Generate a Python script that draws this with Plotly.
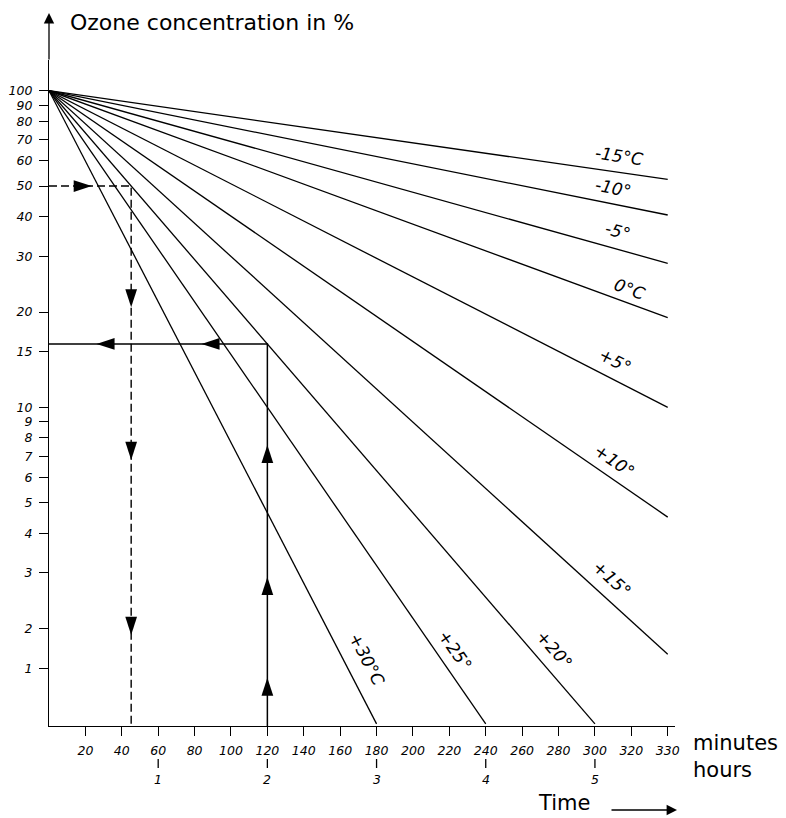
import math
import plotly.graph_objects as go

# ---------------- data ----------------
temps = ["-15°C", "-10°", "-5°", "0°C", "+5°", "+10°", "+15°", "+20°", "+25°", "+30°C"]
start_conc = 100.0                      # % at time 0
end_time = [340, 340, 340, 340, 340, 340, 340, 300, 240, 180]   # minutes (right edge tick reads "330")
end_conc = [52.5, 40.5, 28.5, 19.2, 10.0, 4.5, 1.66, 1.0, 1.0, 1.0]  # %

y_tickvals = [100, 90, 80, 70, 60, 50, 40, 30, 20, 15, 10, 9, 8, 7, 6, 5, 4, 3, 2, 1.5]
y_ticktext = ["100", "90", "80", "70", "60", "50", "40", "30", "20", "15",
              "10", "9", "8", "7", "6", "5", "4", "3", "2", "1"]
x_tickvals = [20, 40, 60, 80, 100, 120, 140, 160, 180, 200, 220, 240, 260, 280, 300, 320, 340]
x_ticktext = ["20", "40", "60", "80", "100", "120", "140", "160", "180", "200",
              "220", "240", "260", "280", "300", "320", "330"]
hours = [1, 2, 3, 4, 5]

# worked example (uses the +20° line); arrow tips
example_idx = 7
example_conc = 50.0      # %
example_time = 120.0     # minutes
down_arrows_conc = [20.7, 6.82, 1.91]
up_arrows_conc = [7.6, 2.91, 1.40]
left_arrows_time = [26.1, 83.8]
right_arrow_time = [23.5]

# ---------------- layout constants ----------------
OFF = 8                                   # page body margin
X_RANGE = [0, 344]
Y_RANGE = [-0.0066, 2.097]
W, H = 778, 810
ML, MR, MT, MB = 41, 111, 52, 92
PW, PH = W - ML - MR, H - MT - MB
ppm = PW / (X_RANGE[1] - X_RANGE[0])
ppd = PH / (Y_RANGE[1] - Y_RANGE[0])

NUMFONT = dict(family="DejaVu Sans", size=12.5, color="black", style="italic")
LABFONT = dict(family="DejaVu Sans", size=17, color="black", style="italic")
TXTFONT = dict(family="DejaVu Sans", size=21, color="black")

fig = go.Figure()

for t, et, ec in zip(temps, end_time, end_conc):
    fig.add_trace(go.Scatter(x=[0, et], y=[start_conc, ec], mode="lines",
                             line=dict(color="black", width=1.3),
                             showlegend=False, hoverinfo="skip", name=t))

# example guides
ref_t = end_time[example_idx]
ref_c = end_conc[example_idx]
t50 = ref_t * math.log(example_conc / start_conc) / math.log(ref_c / start_conc)
c120 = start_conc * (ref_c / start_conc) ** (example_time / ref_t)
y_bottom = 10 ** Y_RANGE[0]

fig.add_trace(go.Scatter(x=[0, t50, t50], y=[example_conc, example_conc, y_bottom],
                         mode="lines", line=dict(color="black", width=1.4, dash="8px,4px"),
                         showlegend=False, hoverinfo="skip"))
fig.add_trace(go.Scatter(x=[example_time, example_time, 0], y=[y_bottom, c120, c120],
                         mode="lines", line=dict(color="black", width=1.5),
                         showlegend=False, hoverinfo="skip"))

def arrows(xs, ys, ang):
    fig.add_trace(go.Scatter(x=xs, y=ys, mode="markers",
                             marker=dict(symbol="arrow", size=19, angle=ang, color="black",
                                         line=dict(width=0)),
                             showlegend=False, hoverinfo="skip", cliponaxis=False))

arrows([t50] * len(down_arrows_conc), down_arrows_conc, 180)
arrows([example_time] * len(up_arrows_conc), up_arrows_conc, 0)
arrows(left_arrows_time, [c120] * len(left_arrows_time), 270)
arrows(right_arrow_time, [example_conc], 90)

def px2paper_x(px):
    return (px - OFF - ML) / PW

def px2paper_y(py):
    return (H - MB - (py - OFF)) / PH

# temperature labels
lab_t = [313.4, 310, 312.3, 319, 311.2, 310.6, 309.5, 264.7, 212, 161.5]
lab_dx = [0, 0, 0, 0, 0, 0, 0, 23, 20, 24]
lab_dy = [16, 16, 18, 15, 19, 19, 25, 0, 0, 0]
annotations = []
for t, et, ec, lt, dx, dy in zip(temps, end_time, end_conc, lab_t, lab_dx, lab_dy):
    ylog = 2 + (math.log10(ec) - 2) * lt / et
    ang = math.degrees(math.atan((2 - math.log10(ec)) * ppd / (et * ppm)))
    annotations.append(dict(x=lt, y=ylog, xref="x", yref="y", text=t, showarrow=False,
                            xshift=dx, yshift=dy, textangle=ang, font=LABFONT,
                            xanchor="center", yanchor="middle"))

annotations += [
    dict(x=px2paper_x(68), y=px2paper_y(23), xref="paper", yref="paper",
         text="Ozone concentration in %", showarrow=False, xanchor="left", yanchor="middle",
         font=dict(family="DejaVu Sans", size=22, color="black")),
    dict(x=px2paper_x(691), y=px2paper_y(743), xref="paper", yref="paper",
         text="minutes", showarrow=False, xanchor="left", yanchor="middle", font=TXTFONT),
    dict(x=px2paper_x(691), y=px2paper_y(770), xref="paper", yref="paper",
         text="hours", showarrow=False, xanchor="left", yanchor="middle", font=TXTFONT),
    dict(x=px2paper_x(564), y=px2paper_y(803), xref="paper", yref="paper",
         text="Time", showarrow=False, xanchor="center", yanchor="middle", font=TXTFONT),
    # y axis arrow
    dict(x=0, y=px2paper_y(13), xref="paper", yref="paper", text="", showarrow=True,
         ax=0, ay=48, arrowhead=2, arrowsize=1.6, arrowwidth=1.3, arrowcolor="black"),
    # time arrow
    dict(x=px2paper_x(677), y=px2paper_y(810), xref="paper", yref="paper", text="",
         showarrow=True, ax=-67, ay=0, arrowhead=2, arrowsize=1.6, arrowwidth=1.3,
         arrowcolor="black"),
]
shapes = []
for h in hours:
    annotations.append(dict(x=h * 60, y=px2paper_y(779), xref="x", yref="paper",
                            text=str(h), showarrow=False, font=NUMFONT,
                            xanchor="center", yanchor="middle"))
    shapes.append(dict(type="line", xref="x", yref="paper", x0=h * 60, x1=h * 60,
                       y0=px2paper_y(759), y1=px2paper_y(768),
                       line=dict(color="black", width=1.3)))

axis_common = dict(showline=True, linecolor="black", linewidth=1.3, ticks="outside",
                   ticklen=9, tickwidth=1.2, tickcolor="black", showgrid=False,
                   zeroline=False, tickfont=NUMFONT, ticklabelstandoff=4, automargin=False)

fig.update_layout(
    width=W, height=H, margin=dict(l=ML, r=MR, t=MT, b=MB),
    paper_bgcolor="white", plot_bgcolor="white", showlegend=False,
    xaxis=dict(range=X_RANGE, tickvals=x_tickvals, ticktext=x_ticktext, **axis_common),
    yaxis=dict(type="log", range=Y_RANGE, tickvals=y_tickvals, ticktext=y_ticktext,
               **axis_common),
    annotations=annotations, shapes=shapes,
)

fig.write_html("out.html")
